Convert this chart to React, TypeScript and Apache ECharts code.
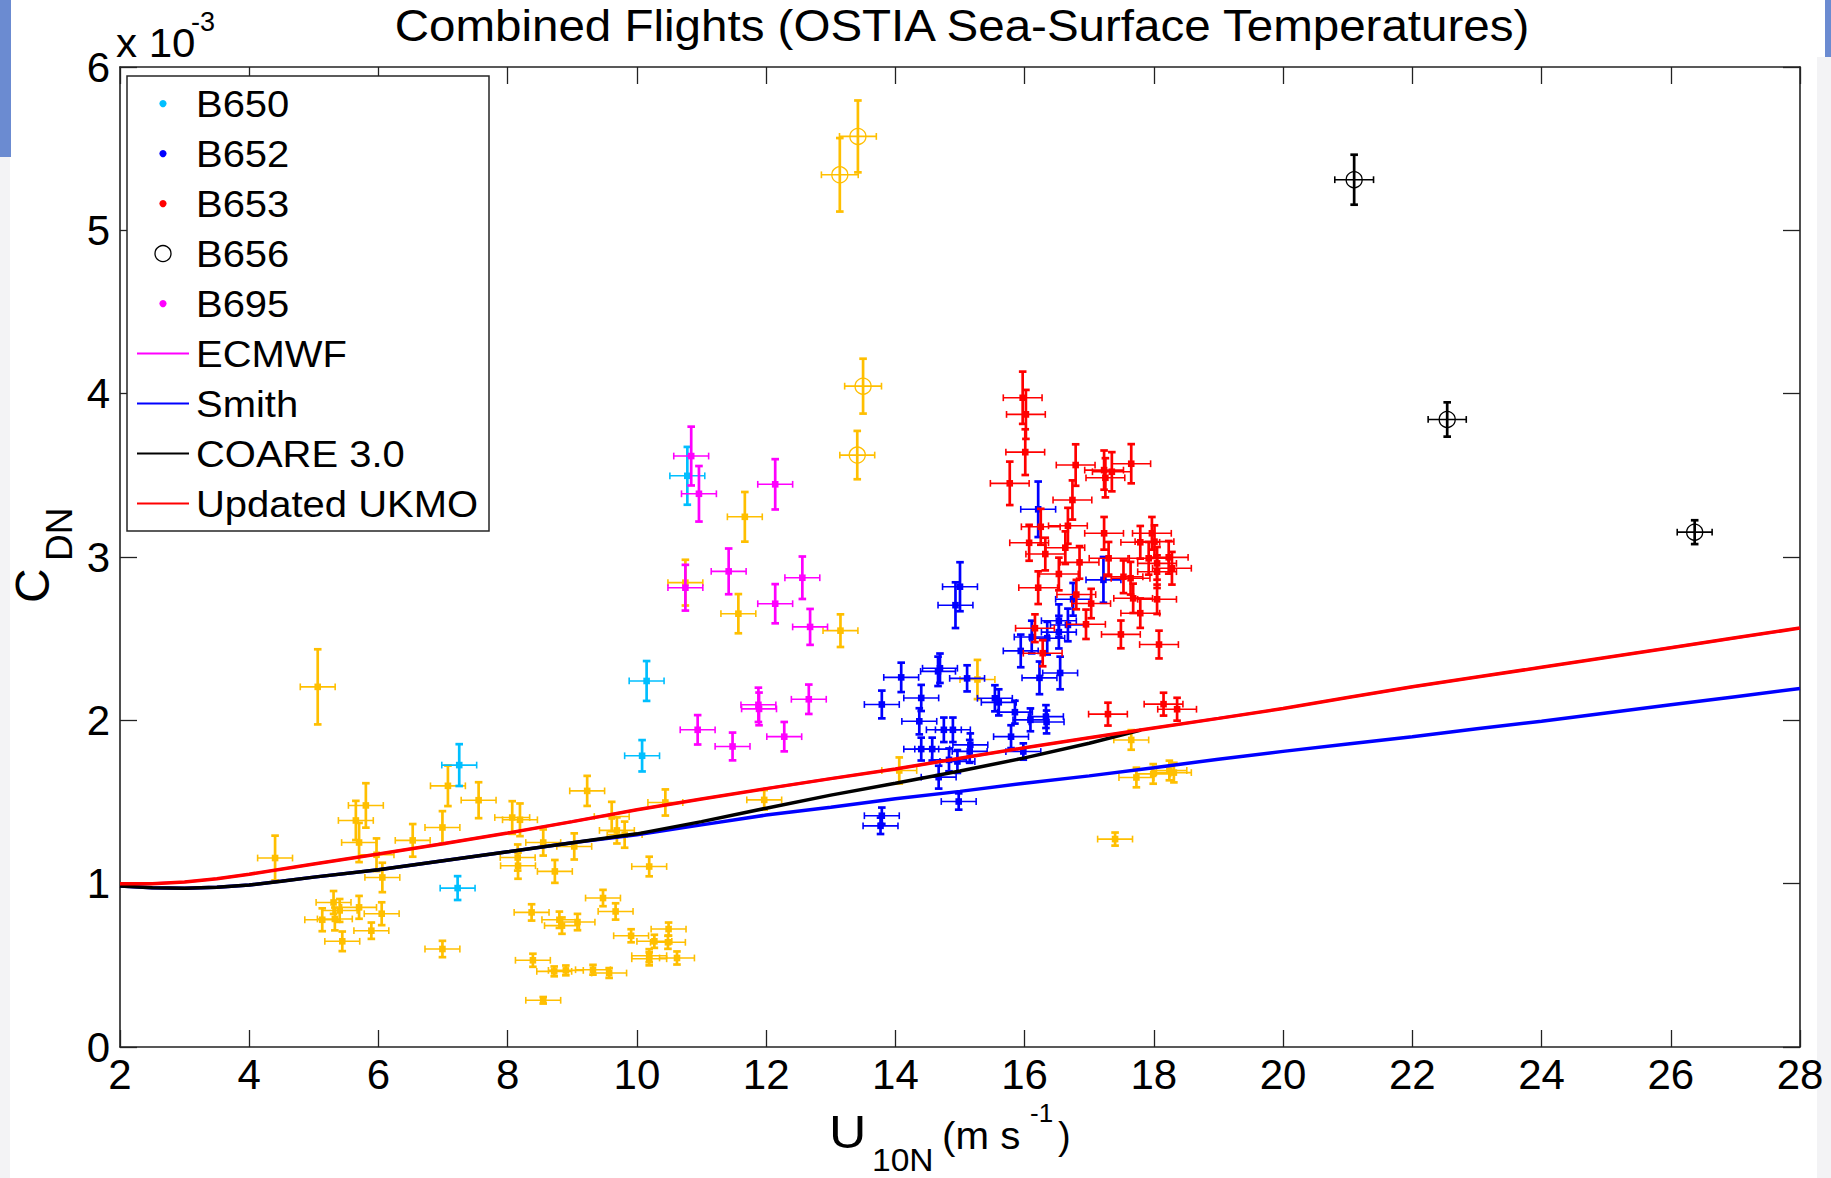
import React, { useEffect, useRef } from "react";
import * as echarts from "echarts";

type Pt = [number, number, number, number]; // [U10N, CDN(x1e-3), U error, CDN error]

const TITLE = "Combined Flights (OSTIA Sea-Surface Temperatures)";
const FONT = "'Liberation Sans', Arial, Helvetica, sans-serif";

const X_MIN = 2;
const X_MAX = 28;
const X_STEP = 2;
const Y_MIN = 0;
const Y_MAX = 6;
const Y_STEP = 1;

const legendLabels = ["B650", "B652", "B653", "B656", "B695", "ECMWF", "Smith", "COARE 3.0", "Updated UKMO"];

const b650: Pt[] = [
  [7.25, 1.726, 0.27, 0.128],
  [7.225, 0.973, 0.27, 0.073],
  [10.08, 1.783, 0.27, 0.096],
  [10.15, 2.241, 0.27, 0.122],
  [10.78, 3.497, 0.27, 0.177],
];

const b652: Pt[] = [
  [15.0, 2.818, 0.27, 0.15],
  [14.93, 2.705, 0.27, 0.14],
  [14.09, 2.263, 0.27, 0.09],
  [14.69, 2.319, 0.27, 0.09],
  [14.66, 2.3, 0.27, 0.09],
  [15.11, 2.257, 0.27, 0.08],
  [13.79, 2.097, 0.27, 0.085],
  [14.4, 2.137, 0.27, 0.08],
  [14.37, 1.994, 0.27, 0.08],
  [14.75, 1.942, 0.27, 0.075],
  [14.89, 1.942, 0.27, 0.075],
  [14.4, 1.824, 0.27, 0.07],
  [14.57, 1.824, 0.27, 0.07],
  [15.16, 1.85, 0.27, 0.07],
  [15.15, 1.81, 0.27, 0.07],
  [14.83, 1.758, 0.27, 0.07],
  [14.96, 1.748, 0.27, 0.07],
  [14.67, 1.652, 0.27, 0.07],
  [14.98, 1.503, 0.27, 0.05],
  [13.79, 1.416, 0.27, 0.05],
  [13.77, 1.354, 0.27, 0.05],
  [15.54, 2.135, 0.27, 0.08],
  [15.6, 2.11, 0.27, 0.08],
  [15.85, 2.05, 0.27, 0.07],
  [16.09, 2.003, 0.27, 0.07],
  [16.33, 2.023, 0.27, 0.07],
  [16.34, 1.99, 0.27, 0.07],
  [15.79, 1.9, 0.27, 0.07],
  [15.98, 1.809, 0.27, 0.05],
  [16.23, 2.26, 0.27, 0.1],
  [16.55, 2.29, 0.27, 0.1],
  [15.94, 2.425, 0.27, 0.1],
  [16.11, 2.51, 0.27, 0.1],
  [16.35, 2.503, 0.27, 0.1],
  [16.53, 2.61, 0.27, 0.1],
  [16.53, 2.54, 0.27, 0.1],
  [16.67, 2.584, 0.27, 0.1],
  [16.75, 2.741, 0.27, 0.1],
  [17.22, 2.86, 0.27, 0.14],
  [16.21, 3.292, 0.27, 0.17],
];

const b653: Pt[] = [
  [15.97, 3.975, 0.3, 0.16],
  [16.02, 3.873, 0.3, 0.15],
  [16.01, 3.642, 0.3, 0.14],
  [15.77, 3.451, 0.3, 0.133],
  [16.79, 3.563, 0.3, 0.127],
  [17.23, 3.532, 0.3, 0.12],
  [17.25, 3.485, 0.3, 0.12],
  [17.35, 3.522, 0.3, 0.12],
  [17.65, 3.571, 0.3, 0.12],
  [16.74, 3.349, 0.3, 0.12],
  [16.67, 3.191, 0.3, 0.11],
  [16.25, 3.185, 0.3, 0.11],
  [16.07, 3.087, 0.3, 0.11],
  [16.32, 3.018, 0.3, 0.1],
  [16.63, 3.057, 0.3, 0.1],
  [16.53, 2.896, 0.3, 0.1],
  [16.85, 2.967, 0.3, 0.1],
  [16.21, 2.812, 0.3, 0.1],
  [17.23, 3.145, 0.3, 0.1],
  [17.3, 2.992, 0.3, 0.1],
  [17.79, 3.09, 0.3, 0.1],
  [17.97, 3.145, 0.3, 0.1],
  [18.01, 3.094, 0.3, 0.1],
  [17.92, 2.992, 0.3, 0.1],
  [18.05, 2.961, 0.3, 0.1],
  [18.05, 2.91, 0.3, 0.1],
  [18.23, 2.998, 0.3, 0.1],
  [18.28, 2.931, 0.3, 0.1],
  [17.53, 2.879, 0.3, 0.1],
  [17.64, 2.87, 0.3, 0.1],
  [17.68, 2.747, 0.3, 0.09],
  [18.05, 2.741, 0.3, 0.09],
  [17.79, 2.656, 0.3, 0.09],
  [16.8, 2.77, 0.3, 0.09],
  [17.03, 2.715, 0.3, 0.09],
  [16.95, 2.588, 0.3, 0.09],
  [17.49, 2.526, 0.3, 0.085],
  [18.08, 2.464, 0.3, 0.085],
  [16.16, 2.564, 0.3, 0.085],
  [16.28, 2.411, 0.3, 0.08],
  [17.29, 2.038, 0.3, 0.07],
  [18.15, 2.099, 0.3, 0.07],
  [18.36, 2.068, 0.3, 0.07],
];

const b656: Pt[] = [
  [21.1, 5.31, 0.3, 0.153],
  [22.54, 3.842, 0.295, 0.105],
  [26.37, 3.152, 0.27, 0.073],
];

const b695: Pt[] = [
  [10.84, 3.618, 0.27, 0.18],
  [10.96, 3.387, 0.27, 0.17],
  [12.14, 3.445, 0.27, 0.154],
  [10.75, 2.812, 0.27, 0.14],
  [11.42, 2.912, 0.27, 0.14],
  [12.56, 2.873, 0.27, 0.13],
  [12.14, 2.714, 0.27, 0.12],
  [12.68, 2.572, 0.27, 0.11],
  [11.88, 2.095, 0.27, 0.105],
  [11.89, 2.07, 0.27, 0.1],
  [12.66, 2.129, 0.27, 0.09],
  [10.94, 1.942, 0.27, 0.09],
  [11.48, 1.84, 0.27, 0.085],
  [12.28, 1.9, 0.27, 0.09],
];

// orange flight (no legend entry in the reference)
const orangeDots: Pt[] = [
  [5.06, 2.205, 0.27, 0.23],
  [4.4, 1.157, 0.27, 0.137],
  [5.805, 1.479, 0.27, 0.136],
  [5.65, 1.387, 0.27, 0.12],
  [5.7, 1.252, 0.27, 0.12],
  [5.97, 1.177, 0.27, 0.1],
  [6.06, 1.038, 0.27, 0.09],
  [6.53, 1.265, 0.27, 0.1],
  [6.99, 1.344, 0.27, 0.1],
  [7.075, 1.599, 0.27, 0.124],
  [7.55, 1.511, 0.27, 0.11],
  [8.07, 1.405, 0.27, 0.1],
  [8.19, 1.391, 0.27, 0.1],
  [8.155, 1.16, 0.27, 0.08],
  [8.16, 1.11, 0.27, 0.08],
  [5.305, 0.885, 0.27, 0.07],
  [5.4, 0.836, 0.27, 0.07],
  [5.13, 0.779, 0.27, 0.07],
  [5.325, 0.784, 0.27, 0.07],
  [5.7, 0.855, 0.27, 0.07],
  [6.05, 0.816, 0.27, 0.07],
  [5.44, 0.647, 0.27, 0.06],
  [5.89, 0.712, 0.27, 0.05],
  [6.99, 0.6, 0.27, 0.05],
  [9.23, 1.568, 0.27, 0.092],
  [8.55, 1.252, 0.27, 0.08],
  [9.03, 1.228, 0.27, 0.08],
  [9.61, 1.411, 0.27, 0.09],
  [9.69, 1.326, 0.27, 0.08],
  [9.81, 1.3, 0.27, 0.08],
  [10.44, 1.497, 0.27, 0.08],
  [11.97, 1.513, 0.27, 0.06],
  [8.73, 1.075, 0.27, 0.07],
  [10.19, 1.105, 0.27, 0.06],
  [8.37, 0.824, 0.27, 0.05],
  [9.475, 0.912, 0.27, 0.05],
  [9.67, 0.83, 0.27, 0.05],
  [8.8, 0.779, 0.27, 0.05],
  [8.84, 0.743, 0.27, 0.05],
  [9.08, 0.765, 0.27, 0.05],
  [9.91, 0.681, 0.27, 0.04],
  [10.49, 0.722, 0.27, 0.04],
  [10.27, 0.647, 0.27, 0.04],
  [10.48, 0.641, 0.27, 0.04],
  [10.19, 0.559, 0.27, 0.04],
  [10.19, 0.54, 0.27, 0.04],
  [10.62, 0.545, 0.27, 0.04],
  [8.39, 0.531, 0.27, 0.04],
  [8.72, 0.463, 0.27, 0.03],
  [8.9, 0.469, 0.27, 0.03],
  [9.32, 0.473, 0.27, 0.03],
  [9.57, 0.453, 0.27, 0.03],
  [8.55, 0.286, 0.27, 0.02],
  [11.67, 3.246, 0.27, 0.152],
  [10.75, 2.843, 0.27, 0.14],
  [11.57, 2.653, 0.27, 0.12],
  [13.15, 2.549, 0.27, 0.1],
  [15.27, 2.25, 0.27, 0.12],
  [14.06, 1.693, 0.27, 0.08],
  [17.65, 1.88, 0.27, 0.06],
  [17.73, 1.65, 0.27, 0.06],
  [17.99, 1.672, 0.27, 0.06],
  [18.24, 1.693, 0.27, 0.06],
  [18.31, 1.68, 0.27, 0.06],
  [17.4, 1.273, 0.27, 0.04],
];

const orangeCircles: Pt[] = [
  [13.14, 5.34, 0.285, 0.225],
  [13.42, 5.575, 0.285, 0.22],
  [13.5, 4.046, 0.285, 0.168],
  [13.41, 3.624, 0.27, 0.148],
];

const ecmwfLine: [number, number][] = [
  [2, 1.0], [2.5, 1.0], [3, 1.01], [3.5, 1.03], [4, 1.058], [5, 1.12], [6, 1.182], [7, 1.245],
  [8, 1.31], [9, 1.38], [10, 1.452], [11, 1.518], [12, 1.582], [13, 1.643], [14, 1.702],
  [15, 1.768], [16, 1.832], [17, 1.893], [18, 1.953], [19, 2.012], [20, 2.072], [21, 2.14],
  [22, 2.205], [23, 2.265], [24, 2.325], [25, 2.385], [26, 2.445], [27, 2.505], [28, 2.565],
];
const smithLine: [number, number][] = [
  [2, 0.985], [2.5, 0.975], [3, 0.972], [3.5, 0.978], [4, 0.992], [5, 1.04], [6, 1.085],
  [7, 1.14], [8, 1.195], [9, 1.25], [10, 1.3], [11, 1.36], [12, 1.42], [13, 1.468], [14, 1.52],
  [15, 1.565], [16, 1.615], [17, 1.66], [18, 1.71], [19, 1.762], [20, 1.81], [21, 1.855],
  [22, 1.9], [23, 1.948], [24, 1.995], [25, 2.045], [26, 2.095], [27, 2.145], [28, 2.195],
];
const coareLine: [number, number][] = [
  [2, 0.985], [2.5, 0.975], [3, 0.972], [3.5, 0.978], [4, 0.992], [4.5, 1.015], [5, 1.04],
  [6, 1.085], [7, 1.14], [8, 1.195], [9, 1.25], [10, 1.305], [11, 1.38], [12, 1.462],
  [13, 1.542], [14, 1.615], [15, 1.69], [16, 1.77], [17, 1.86], [17.8, 1.94],
];
const ukmoLine: [number, number][] = [
  [2, 1.0], [2.5, 1.0], [3, 1.01], [3.5, 1.03], [4, 1.058], [5, 1.12], [6, 1.182], [7, 1.245],
  [8, 1.31], [9, 1.38], [10, 1.452], [11, 1.518], [12, 1.582], [13, 1.643], [14, 1.702],
  [15, 1.768], [16, 1.832], [17, 1.893], [18, 1.953], [19, 2.012], [20, 2.072], [21, 2.14],
  [22, 2.205], [23, 2.265], [24, 2.325], [25, 2.385], [26, 2.445], [27, 2.505], [28, 2.565],
];

const C_ORANGE = "#ffbf00";
const C_CYAN = "#00bfff";
const C_BLUE = "#0000ff";
const C_RED = "#ff0000";
const C_MAGENTA = "#ff00ff";
const C_BLACK = "#000000";
const AXIS_COLOR = "#222222";

function errRender(color: string, marker: "dot" | "circle") {
  return (_params: any, api: any) => {
    const x = api.value(0);
    const y = api.value(1);
    const ex = api.value(2);
    const ey = api.value(3);
    const c = api.coord([x, y]);
    const l = api.coord([x - ex, y]);
    const r = api.coord([x + ex, y]);
    const t = api.coord([x, y + ey]);
    const b = api.coord([x, y - ey]);
    const hs = { stroke: color, lineWidth: 1.6 };
    const vs = { stroke: color, lineWidth: 2.7 };
    const hCap = 3.4;
    const vCap = 3.8;
    const children: any[] = [
      { type: "line", shape: { x1: l[0], y1: c[1], x2: r[0], y2: c[1] }, style: hs },
      { type: "line", shape: { x1: l[0], y1: c[1] - hCap, x2: l[0], y2: c[1] + hCap }, style: hs },
      { type: "line", shape: { x1: r[0], y1: c[1] - hCap, x2: r[0], y2: c[1] + hCap }, style: hs },
      { type: "line", shape: { x1: c[0], y1: t[1], x2: c[0], y2: b[1] }, style: vs },
      { type: "line", shape: { x1: c[0] - vCap, y1: t[1], x2: c[0] + vCap, y2: t[1] }, style: vs },
      { type: "line", shape: { x1: c[0] - vCap, y1: b[1], x2: c[0] + vCap, y2: b[1] }, style: vs },
    ];
    if (marker === "dot") {
      children.push({ type: "rect", shape: { x: c[0] - 3.3, y: c[1] - 3.3, width: 6.6, height: 6.6 }, style: { fill: color } });
    } else {
      children.push({ type: "circle", shape: { cx: c[0], cy: c[1], r: 8 }, style: { fill: "none", stroke: color, lineWidth: 1.3 } });
    }
    return { type: "group", children };
  };
}

function errSeries(name: string, data: Pt[], color: string, marker: "dot" | "circle") {
  return {
    type: "custom",
    name,
    data,
    encode: { x: 0, y: 1 },
    renderItem: errRender(color, marker),
    silent: true,
    z: 2,
  };
}

function lineSeries(name: string, data: [number, number][], color: string, width: number) {
  return {
    type: "line",
    name,
    data,
    showSymbol: false,
    symbol: "none",
    lineStyle: { color, width },
    itemStyle: { color },
    silent: true,
    z: 3,
  };
}

function axisCommon(showLabel: boolean, margin: number) {
  return {
    axisLine: { show: true, onZero: false, lineStyle: { color: AXIS_COLOR, width: 1.6 } },
    axisTick: { show: true, inside: true, length: 17, lineStyle: { color: AXIS_COLOR, width: 1.3 } },
    axisLabel: {
      show: showLabel,
      margin,
      fontSize: 42,
      fontFamily: FONT,
      color: "#000",
      showMinLabel: true,
      showMaxLabel: true,
    },
    splitLine: { show: false },
  };
}

function legendGraphics() {
  const els: any[] = [];
  els.push({
    type: "rect",
    z: 100,
    shape: { x: 127, y: 76, width: 362, height: 455 },
    style: { fill: "#ffffff", stroke: "#262626", lineWidth: 1.5 },
  });
  const icons: { kind: "dot" | "circle" | "line"; color: string }[] = [
    { kind: "dot", color: C_CYAN },
    { kind: "dot", color: C_BLUE },
    { kind: "dot", color: C_RED },
    { kind: "circle", color: C_BLACK },
    { kind: "dot", color: C_MAGENTA },
    { kind: "line", color: C_MAGENTA },
    { kind: "line", color: C_BLUE },
    { kind: "line", color: C_BLACK },
    { kind: "line", color: C_RED },
  ];
  legendLabels.forEach((label, i) => {
    const cy = 103.6 + 50 * i;
    const ic = icons[i];
    if (ic.kind === "dot") {
      els.push({ type: "circle", z: 101, shape: { cx: 163, cy, r: 3.6 }, style: { fill: ic.color } });
    } else if (ic.kind === "circle") {
      els.push({ type: "circle", z: 101, shape: { cx: 163, cy, r: 8 }, style: { fill: "#fff", stroke: ic.color, lineWidth: 1.3 } });
    } else {
      els.push({ type: "line", z: 101, shape: { x1: 137, y1: cy, x2: 189, y2: cy }, style: { stroke: ic.color, lineWidth: 2 } });
    }
    els.push({
      type: "text",
      z: 101,
      x: 196,
      y: cy,
      scaleX: 1.08,
      style: { text: label, fontSize: 37, fontFamily: FONT, fill: "#000", align: "left", verticalAlign: "middle" },
    });
  });
  return els;
}

function textEl(text: string, x: number, y: number, size: number, extra: any = {}) {
  return {
    type: "text",
    z: 50,
    x,
    y,
    ...extra,
    style: { text, fontSize: size, fontFamily: FONT, fill: "#000", align: extra.align || "left", verticalAlign: "middle" },
  };
}

export default function App() {
  const ref = useRef<HTMLDivElement>(null);
  useEffect(() => {
    if (!ref.current) return;
    const chart = echarts.init(ref.current, null, { renderer: "svg" });
    const option: any = {
      animation: false,
      backgroundColor: "#ffffff",
      grid: { left: 120, top: 67, right: 31, bottom: 131, containLabel: false },
      xAxis: [
        { type: "value", position: "bottom", min: X_MIN, max: X_MAX, interval: X_STEP, ...axisCommon(true, 6) },
        { type: "value", position: "top", min: X_MIN, max: X_MAX, interval: X_STEP, ...axisCommon(false, 6) },
      ],
      yAxis: [
        { type: "value", position: "left", min: Y_MIN, max: Y_MAX, interval: Y_STEP, ...axisCommon(true, 10) },
        { type: "value", position: "right", min: Y_MIN, max: Y_MAX, interval: Y_STEP, ...axisCommon(false, 10) },
      ],
      series: [
        errSeries("orange flight", orangeDots, C_ORANGE, "dot"),
        errSeries("orange flight circles", orangeCircles, C_ORANGE, "circle"),
        errSeries("B650", b650, C_CYAN, "dot"),
        errSeries("B652", b652, C_BLUE, "dot"),
        errSeries("B653", b653, C_RED, "dot"),
        errSeries("B656", b656, C_BLACK, "circle"),
        errSeries("B695", b695, C_MAGENTA, "dot"),
        lineSeries("ECMWF", ecmwfLine, C_MAGENTA, 2.6),
        lineSeries("Smith", smithLine, C_BLUE, 3.5),
        lineSeries("COARE 3.0", coareLine, C_BLACK, 3.5),
        lineSeries("Updated UKMO", ukmoLine, C_RED, 3.5),
      ],
      graphic: {
        elements: [
          // slide decorations at page edges
          { type: "rect", z: 0, shape: { x: 0, y: 0, width: 11, height: 157 }, style: { fill: "#6b8bd1" } },
          { type: "rect", z: 0, shape: { x: 0, y: 157, width: 10, height: 1021 }, style: { fill: "#f3f3f5" } },
          { type: "rect", z: 0, shape: { x: 1825, y: 0, width: 6, height: 57 }, style: { fill: "#6b8bd1" } },
          { type: "rect", z: 0, shape: { x: 1817, y: 57, width: 14, height: 1121 }, style: { fill: "#f3f3f5" } },
          textEl(TITLE, 962, 26, 44, { align: "center", scaleX: 1.08 }),
          textEl("x 10", 116, 43, 40, { scaleX: 1.05 }),
          textEl("-3", 191, 22, 27),
          textEl("U", 829, 1131, 47, { scaleX: 1.1 }),
          textEl("10N", 872, 1160, 32, { scaleX: 1.05 }),
          textEl("(m s", 942, 1136, 38, { scaleX: 1.06 }),
          textEl("-1", 1030, 1113, 26),
          textEl(")", 1058, 1136, 38),
          textEl("C", 32, 603, 48, { rotation: Math.PI / 2 }),
          textEl("DN", 59, 561, 37, { rotation: Math.PI / 2 }),
          ...legendGraphics(),
        ],
      },
    };
    chart.setOption(option);
    return () => chart.dispose();
  }, []);
  return (
    <div
      ref={ref}
      style={{ position: "fixed", left: 0, top: 0, width: 1831, height: 1178, background: "#ffffff" }}
    />
  );
}
